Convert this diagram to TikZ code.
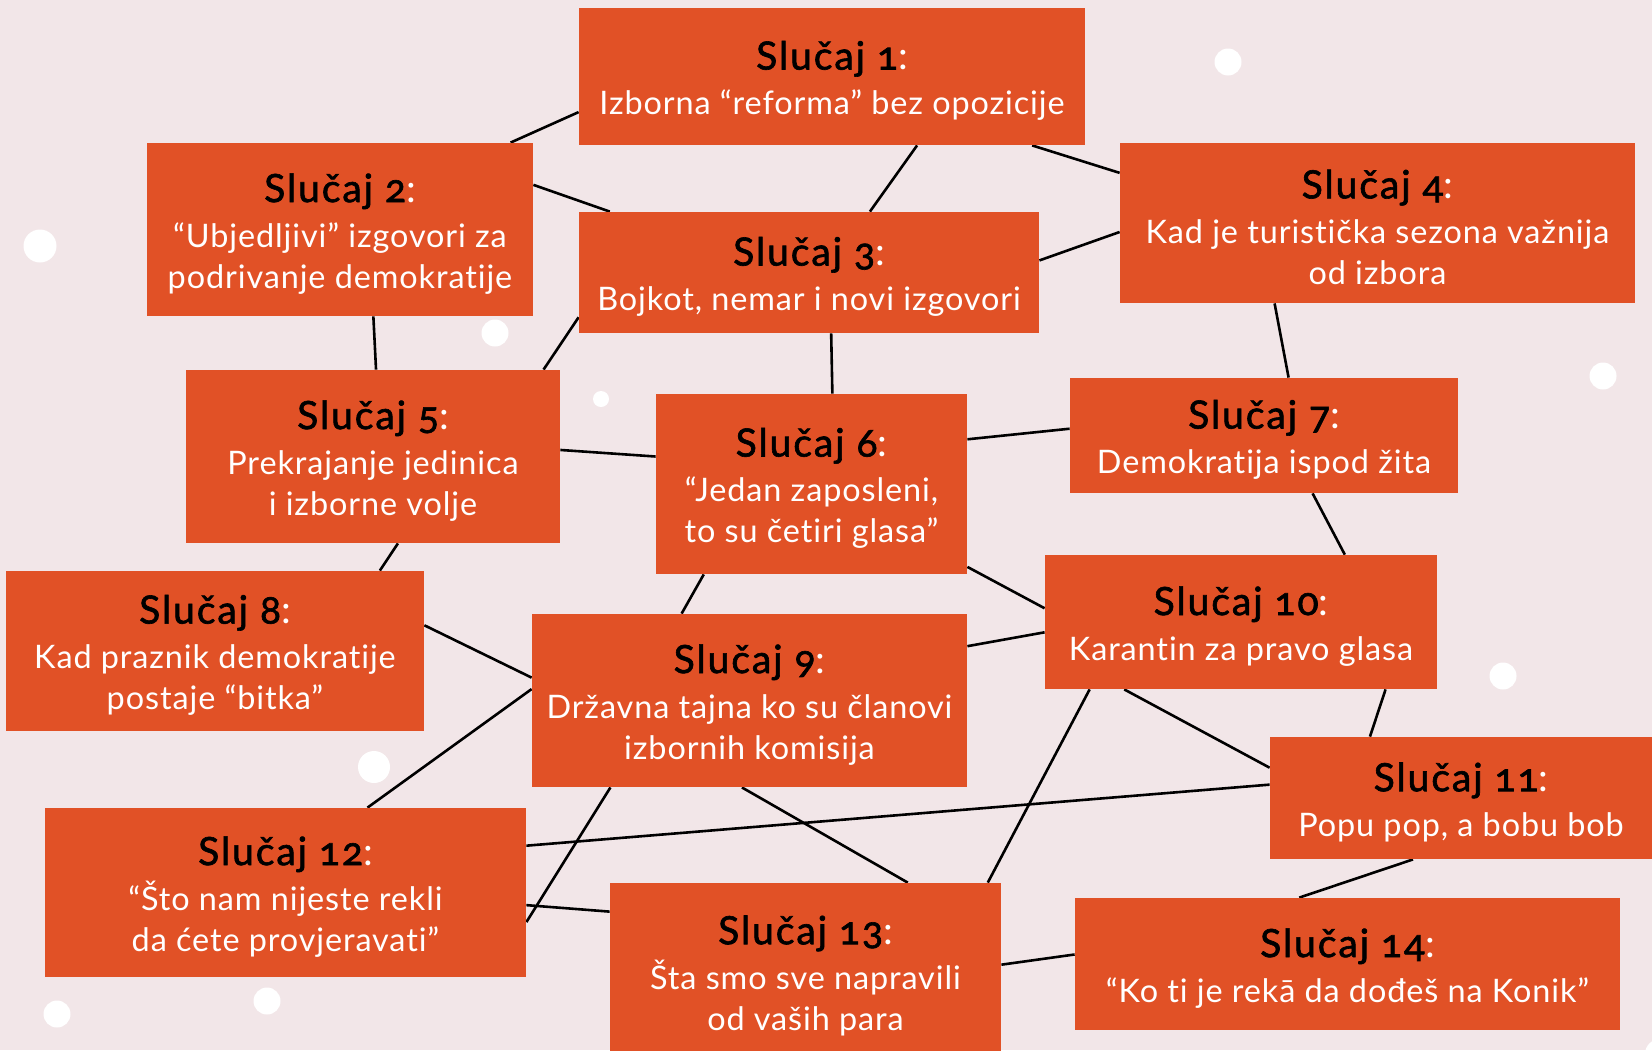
\documentclass[tikz,border=0pt]{standalone}
\usepackage{fontspec}
\setmainfont{Lato}[Numbers=OldStyle, LetterSpace=2.8, Ligatures=NoCommon]
\newfontfamily\titlefam{Lato}[Numbers=OldStyle, LetterSpace=5, FakeBold=1.6, Ligatures=NoCommon]
\pgfdeclarelayer{back}
\pgfdeclarelayer{links}
\pgfsetlayers{back,links,main}
\definecolor{bgc}{RGB}{242,230,232}
\definecolor{boxc}{RGB}{225,81,38}
\newcommand\bodyfont{\fontsize{16.2}{20.5}\selectfont}
\newcommand\titlefont{\fontsize{19.5}{20.5}\selectfont\titlefam\color{black}}
\newcommand\slucaj[2]{{\rule{0pt}{18.5pt}\titlefont Slučaj #1\textcolor{white}{\normalfont :}}\\[2pt]#2}
\tikzset{
  box/.style={fill=boxc, text=white, align=center, inner sep=0pt, font=\bodyfont},
  link/.style={line width=1.3pt, draw=black},
  dot/.style={fill=white}
}
\begin{document}
\begin{tikzpicture}[x=0.5pt,y=-0.5pt]
\useasboundingbox (0,0) rectangle (1652,1050);
\begin{pgfonlayer}{back}
\fill[bgc] (0,0) rectangle (1652,1050);
\fill[dot] (40,246) circle[radius=8.25pt];
\fill[dot] (495,333) circle[radius=6.75pt];
\fill[dot] (601,399) circle[radius=4pt];
\fill[dot] (1228,62) circle[radius=6.75pt];
\fill[dot] (1603,376) circle[radius=6.75pt];
\fill[dot] (374,767) circle[radius=8pt];
\fill[dot] (267,1001) circle[radius=6.75pt];
\fill[dot] (57,1014) circle[radius=6.75pt];
\fill[dot] (1503,676) circle[radius=6.75pt];
\fill[dot] (1660,1054) circle[radius=7.5pt];
\end{pgfonlayer}

\node[box, minimum width=253pt,   minimum height=68.5pt] (n1)  at (832,76.5)   {\slucaj{1}{Izborna “reforma” bez opozicije}};
\node[box, minimum width=193pt,   minimum height=86.5pt] (n2)  at (340,229.5)  {\slucaj{2}{“Ubjedljivi” izgovori za\\podrivanje demokratije}};
\node[box, minimum width=230pt,   minimum height=60.5pt] (n3)  at (809,272.5)  {\slucaj{3}{Bojkot, nemar i novi izgovori}};
\node[box, minimum width=257.5pt, minimum height=80pt]   (n4)  at (1377.5,223) {\slucaj{4}{Kad je turistička sezona važnija\\od izbora}};
\node[box, minimum width=187pt,   minimum height=86.5pt] (n5)  at (373,456.5)  {\slucaj{5}{Prekrajanje jedinica\\i izborne volje}};
\node[box, minimum width=155.5pt, minimum height=90pt]   (n6)  at (811.5,484)  {\slucaj{6}{“Jedan zaposleni,\\to su četiri glasa”}};
\node[box, minimum width=194pt,   minimum height=57.5pt] (n7)  at (1264,435.5) {\slucaj{7}{Demokratija ispod žita}};
\node[box, minimum width=209pt,   minimum height=80pt]   (n8)  at (215,651)    {\slucaj{8}{Kad praznik demokratije\\postaje “bitka”}};
\node[box, minimum width=217.5pt, minimum height=86.5pt] (n9)  at (749.5,700.5) {\slucaj{9}{Državna tajna ko su članovi\\izbornih komisija}};
\node[box, minimum width=196pt,   minimum height=67pt]   (n10) at (1241,622)   {\slucaj{10}{Karantin za pravo glasa}};
\node[box, minimum width=191pt,   minimum height=61pt]   (n11) at (1461,798)   {\slucaj{11}{Popu pop, a bobu bob}};
\node[box, minimum width=240.5pt, minimum height=84.5pt] (n12) at (285.5,892.5) {\slucaj{12}{“Što nam nijeste rekli\\da ćete provjeravati”}};
\node[box, minimum width=195.5pt, minimum height=88.5pt] (n13) at (805.5,971.5) {\slucaj{13}{Šta smo sve napravili\\od vaših para}};
\node[box, minimum width=272.5pt, minimum height=66pt]   (n14) at (1347.5,964) {\slucaj{14}{“Ko ti je rekā da dođeš na Konik”}};

\begin{pgfonlayer}{links}
\draw[link] (n1.188.4) -- (n2.27);
\draw[link] (n2.13.3) -- (n3.163.2);
\draw[link] (n1.321.8) -- (n3.45.2);
\draw[link] (n1.341.9) -- (n4.169.7);
\draw[link] (n3.3.1) -- (n4.182.9);
\draw[link] (n2.291.5) -- (n5.88);
\draw[link] (n3.191.9) -- (n5.27.1);
\draw[link] (n3.290) -- (n6.77.8);
\draw[link] (n4.218.8) -- (n7.67.3);
\draw[link] (n5.2.3) -- (n6.170.5);
\draw[link] (n6.16.5) -- (n7.178.7);
\draw[link] (n7.310.4) -- (n10.33);
\draw[link] (n5.286.7) -- (n8.26.7);
\draw[link] (n6.220.5) -- (n9.128.8);
\draw[link] (n6.332.5) -- (n10.176.8);
\draw[link] (n9.14.8) -- (n10.183.8);
\draw[link] (n8.7.4) -- (n9.174.6);
\draw[link] (n9.177.2) -- (n12.46.7);
\draw[link] (n10.210.4) -- (n11.171.4);
\draw[link] (n10.204.1) -- (n13.26);
\draw[link] (n10.335.3) -- (n11.146.5);
\draw[link] (n9.265.7) -- (n13.41);
\draw[link] (n9.212.9) -- (n12.353.5);
\draw[link] (n12.11.2) -- (n11.176.7);
\draw[link] (n12.357) -- (n13.163.9);
\draw[link] (n13.2.8) -- (n14.178.7);
\draw[link] (n11.232.4) -- (n14.126.3);
\end{pgfonlayer}
\end{tikzpicture}
\end{document}
